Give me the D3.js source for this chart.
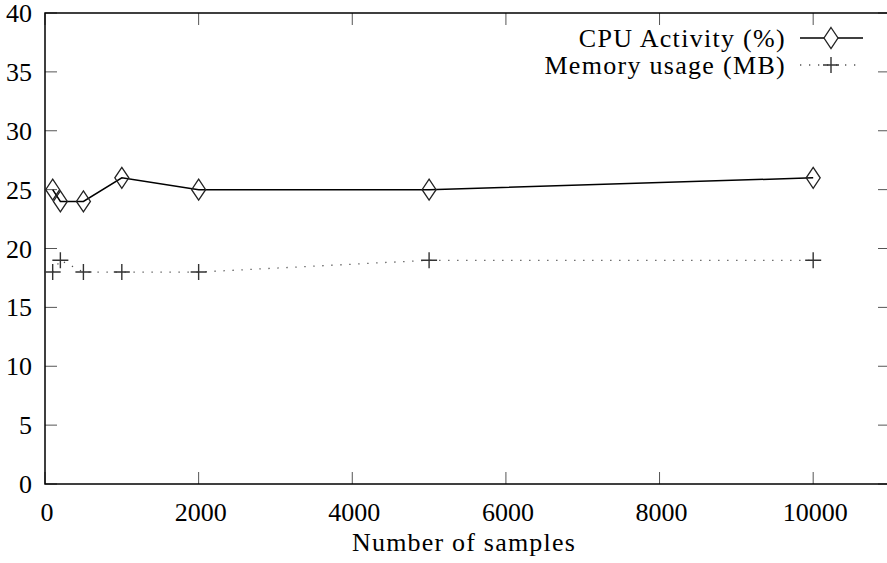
<!DOCTYPE html>
<html>
<head>
<meta charset="utf-8">
<script src="https://cdn.jsdelivr.net/npm/d3@7"></script>
<style>
  body { margin: 0; background: #fff; }
  text { font-family: "Liberation Serif", "Times New Roman", serif; fill: #000; }
</style>
</head>
<body>
<div id="chart"></div>
<script>
var samples = [100, 200, 500, 1000, 2000, 5000, 10000];
var cpuActivity = [25, 24, 24, 26, 25, 25, 26];
var memoryUsage = [18, 19, 18, 18, 18, 19, 19];
var xTicks = [0, 2000, 4000, 6000, 8000, 10000];
var yTicks = [0, 5, 10, 15, 20, 25, 30, 35, 40];
var seriesNames = ["CPU Activity (%)", "Memory usage (MB)"];

var drawChart = function() {
    var width = 887, height = 563;
    var pLeft = 45, pRight = 890, pTop = 13, pBottom = 484;

    var svg = d3.select("#chart").append("svg")
        .attr("width", width).attr("height", height);

    var x = d3.scaleLinear().domain([0, 11000]).range([pLeft, pRight]);
    var y = d3.scaleLinear().domain([0, 40]).range([pBottom, pTop]);

    // ticks on all four sides, gnuplot style
    var tickLen = 12;
    var ticks = svg.append("g").attr("stroke", "#555").attr("stroke-width", 1);
    xTicks.forEach(function(t) {
        ticks.append("line").attr("x1", x(t)).attr("x2", x(t)).attr("y1", pBottom).attr("y2", pBottom - tickLen);
        ticks.append("line").attr("x1", x(t)).attr("x2", x(t)).attr("y1", pTop).attr("y2", pTop + tickLen);
    });
    yTicks.forEach(function(t) {
        ticks.append("line").attr("x1", pLeft).attr("x2", pLeft + tickLen).attr("y1", y(t)).attr("y2", y(t));
        ticks.append("line").attr("x1", pRight).attr("x2", pRight - tickLen).attr("y1", y(t)).attr("y2", y(t));
    });

    svg.append("rect")
        .attr("x", pLeft).attr("y", pTop)
        .attr("width", pRight - pLeft).attr("height", pBottom - pTop)
        .attr("fill", "none").attr("stroke", "#000").attr("stroke-width", 1.5);

    var fs = 26;
    svg.selectAll(".xl").data(xTicks).enter().append("text")
        .attr("x", function(d) { return x(d) + 2; })
        .attr("y", 521)
        .attr("text-anchor", "middle")
        .attr("font-size", fs)
        .text(function(d) { return d; });

    svg.selectAll(".yl").data(yTicks).enter().append("text")
        .attr("x", 32)
        .attr("y", function(d) { return y(d) + 9; })
        .attr("text-anchor", "end")
        .attr("font-size", fs)
        .text(function(d) { return d; });

    svg.append("text")
        .attr("x", 464)
        .attr("y", 551)
        .attr("text-anchor", "middle")
        .attr("font-size", fs)
        .attr("letter-spacing", 1.2)
        .text("Number of samples");

    var line = d3.line()
        .x(function(d) { return x(d[0]); })
        .y(function(d) { return y(d[1]); });

    var cpuData = samples.map(function(s, i) { return [s, cpuActivity[i]]; });
    var memData = samples.map(function(s, i) { return [s, memoryUsage[i]]; });

    svg.append("path").datum(memData)
        .attr("d", line).attr("fill", "none")
        .attr("stroke", "#555").attr("stroke-width", 1.3)
        .attr("stroke-dasharray", "1.3,7.7");

    svg.append("path").datum(cpuData)
        .attr("d", line).attr("fill", "none")
        .attr("stroke", "#000").attr("stroke-width", 1.5);

    var diamond = function(cx, cy) {
        return "M" + cx + "," + (cy - 10.5) + "L" + (cx + 7) + "," + cy +
               "L" + cx + "," + (cy + 10.5) + "L" + (cx - 7) + "," + cy + "Z";
    };
    var plus = function(cx, cy) {
        return "M" + (cx - 8) + "," + cy + "H" + (cx + 8) +
               "M" + cx + "," + (cy - 8) + "V" + (cy + 8);
    };

    svg.selectAll(".cpu").data(cpuData).enter().append("path")
        .attr("d", function(d) { return diamond(x(d[0]), y(d[1])); })
        .attr("fill", "none").attr("stroke", "#222").attr("stroke-width", 1.3);

    svg.selectAll(".mem").data(memData).enter().append("path")
        .attr("d", function(d) { return plus(x(d[0]), y(d[1])); })
        .attr("fill", "none").attr("stroke", "#333").attr("stroke-width", 1.4);

    // legend
    var legY = [38, 65];
    svg.selectAll(".leg").data(seriesNames).enter().append("text")
        .attr("x", 786)
        .attr("y", function(d, i) { return legY[i] + 9; })
        .attr("text-anchor", "end")
        .attr("font-size", fs)
        .attr("letter-spacing", 1.3)
        .text(function(d) { return d; });

    svg.append("line").attr("x1", 800).attr("x2", 863).attr("y1", legY[0]).attr("y2", legY[0])
        .attr("stroke", "#000").attr("stroke-width", 1.5);
    svg.append("path").attr("d", diamond(831, legY[0]))
        .attr("fill", "#fff").attr("stroke", "#222").attr("stroke-width", 1.3);
    svg.append("line").attr("x1", 800).attr("x2", 863).attr("y1", legY[1]).attr("y2", legY[1])
        .attr("stroke", "#555").attr("stroke-width", 1.3).attr("stroke-dasharray", "1.3,7.7");
    svg.append("path").attr("d", plus(831, legY[1]))
        .attr("fill", "none").attr("stroke", "#333").attr("stroke-width", 1.4);
};

drawChart();
</script>
</body>
</html>
